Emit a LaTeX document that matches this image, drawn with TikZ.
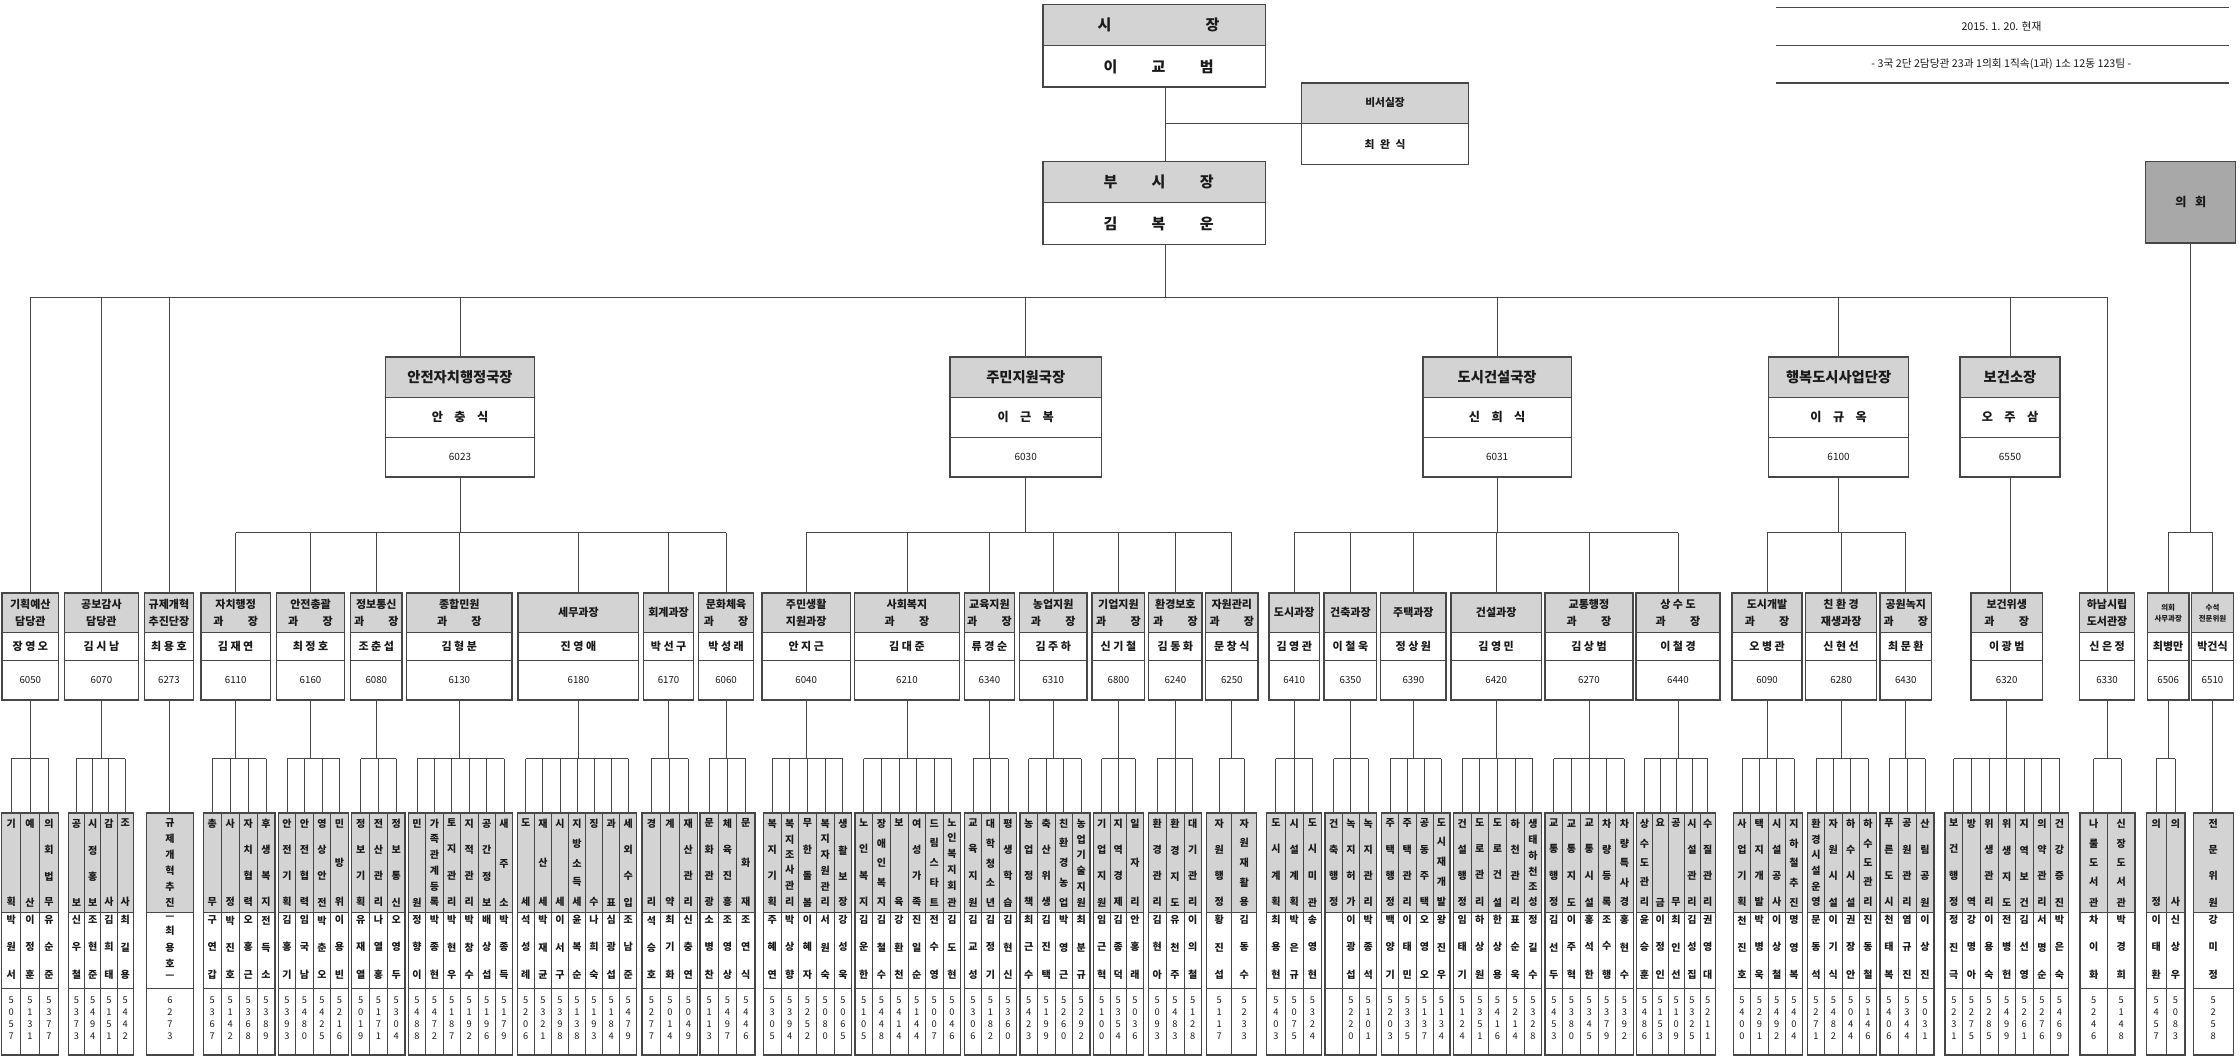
\documentclass[tikz,border=0pt]{standalone}
\usepackage{fontspec}
\setmainfont{Noto Sans CJK KR}
\usetikzlibrary{calc}
\definecolor{hdr}{HTML}{D3D3D3}
\definecolor{council}{HTML}{A8A8A8}
\definecolor{ln}{HTML}{474747}
\definecolor{tx}{HTML}{1A1A1A}
\newif\iffirstch
\def\vstend{\vstend}
\def\vstloop#1{\ifx#1\vstend\else\iffirstch\firstchfalse\else\vfill\fi\hbox to 0pt{\hss#1\hss}\expandafter\vstloop\fi}
\newcommand\vstack[2]{\vbox to #1{\offinterlineskip\firstchtrue\expandafter\vstloop#2\vstend}}
\newcommand\fA{\fontsize{7.7}{11.5}\selectfont\bfseries}
\newcommand\fB{\fontsize{5.2}{7.8}\selectfont\bfseries}
\tikzset{
  conn/.style={draw=ln, line width=0.6pt},
  frame/.style={draw=ln, line width=1pt},
  thinl/.style={draw=ln, line width=0.55pt},
  boxnode/.style={rectangle, inner sep=0pt, outer sep=0pt},
  colbox/.style={rectangle, draw=ln, line width=0.5pt, inner sep=0pt, outer sep=0pt, minimum height=169.5pt},
  stxt/.style={inner sep=0pt, align=center, text=tx},
  ntxt/.style={inner sep=0pt, text=tx, font=\fontsize{7.7}{7.7}\selectfont\bfseries},
  ptxt/.style={inner sep=0pt, text=tx, font=\fontsize{6.8}{6.8}\selectfont},
  dhtxt/.style={inner sep=0pt, text=tx, font=\fontsize{10}{10}\selectfont\bfseries},
  dntxt/.style={inner sep=0pt, text=tx, font=\fontsize{8.5}{8.5}\selectfont\bfseries},
  ctxt/.style={inner sep=0pt, text=tx, font=\fontsize{7}{7}\selectfont\bfseries},
  dtxt/.style={inner sep=0pt, text=tx, font=\fontsize{6.5}{6.5}\selectfont},
}
% section box
\newcommand\SB[7]{%
  \pgfmathsetmacro\bw{#3-#2}\pgfmathsetmacro\bxc{(#2+#3)/2}%
  \fill[hdr] (#2,415) rectangle (#3,443);
  \draw[thinl] (#2,443) -- (#3,443) (#2,462) -- (#3,462);
  \node[boxnode, frame, minimum width=\bw pt, minimum height=75pt, anchor=north west] (#1) at (#2,415) {};
  \node[stxt, font=#7] at (\bxc,429) {#4};
  \node[ntxt] at (\bxc,452.5) {#5};
  \node[ptxt] at (\bxc,476) {#6};
}
% director box
\newcommand\DB[6]{%
  \pgfmathsetmacro\bw{#3-#2}\pgfmathsetmacro\bxc{(#2+#3)/2}%
  \fill[hdr] (#2,250) rectangle (#3,278);
  \draw[thinl] (#2,278) -- (#3,278) (#2,306) -- (#3,306);
  \node[boxnode, frame, minimum width=\bw pt, minimum height=84pt, anchor=north west] (#1) at (#2,250) {};
  \node[dhtxt] at (\bxc,264) {#4};
  \node[dntxt] at (\bxc,292) {#5};
  \node[ptxt, font=\fontsize{7}{7}\selectfont] at (\bxc,320) {#6};
}
% column group
\newcommand\CG[5]{%
  \pgfmathsetmacro\cw{(#3-#2)/#4}%
  \fill[hdr] (#2,569) rectangle (#3,639);
  \foreach \ha/\na/\da [count=\ci] in {#5}{%
    \pgfmathsetmacro\xl{#2+(\ci-1)*\cw}%
    \pgfmathsetmacro\xm{#2+(\ci-0.5)*\cw}%
    \node[colbox, minimum width=\cw pt, anchor=north west] (#1-\ci) at (\xl,569) {};
    \node[ctxt] at (\xm,604) {\vstack{61pt}{\ha}};
    \node[ctxt] at (\xm,663) {\vstack{44pt}{\na}};
    \node[dtxt] at (\xm,712.5) {\vstack{30pt}{\da}};
  }
  \draw[frame] (#2,569) rectangle (#3,738.5);
  \draw[thinl] (#2,639) -- (#3,639) (#2,692) -- (#3,692);
  \ifnum#4=1
    \draw[conn] (#1.south) -- (#1.south |- #1-1.north);
  \else
    \draw[conn] (#1.south) -- (#1.south |- cbus);
    \draw[conn] (#1-1.north |- cbus) -- (#1-#4.north |- cbus);
    \foreach \cj in {1,...,#4}{\draw[conn] (#1-\cj.north |- cbus) -- (#1-\cj.north);}
  \fi
}
% sub bus from director to sections
\newcommand\SUB[4]{%
  \draw[conn] (#1.south) -- (#1.south |- sbus);
  \draw[conn] (#2.north |- sbus) -- (#3.north |- sbus);
  \foreach \sn in {#4}{\draw[conn] (\sn.north |- sbus) -- (\sn.north);}
}
\begin{document}
\begin{tikzpicture}[x=1pt,y=-1pt]
\useasboundingbox (0,0) rectangle (1568,744);
\fill[white] (0,0) rectangle (1568,744);
\coordinate (trunk) at (816,0);
\coordinate (mbus) at (0,208);
\coordinate (sbus) at (0,373);
\coordinate (cbus) at (0,531);

% date block
\draw[ln, line width=0.9pt] (1243,5) -- (1560,5) (1243,32) -- (1560,32) (1243,58) -- (1560,58);
\node[inner sep=0pt, text=tx, font=\fontsize{7.5}{7.5}\selectfont] (date) at (1401,18.5) {2015. 1. 20. 현재};
\node[inner sep=0pt, text=tx, font=\fontsize{7.5}{7.5}\selectfont] (summary) at (1401,45) {- 3국 2단 2담당관 23과 1의회 1직속(1과) 1소 12동 123팀 -};

% mayor
\fill[hdr] (730,3) rectangle (886,32);
\draw[thinl] (730,32) -- (886,32);
\node[boxnode, frame, minimum width=156pt, minimum height=58pt, anchor=north west] (mayor) at (730,3) {};
\node[inner sep=0pt, text=tx, font=\fontsize{10.5}{10.5}\selectfont\bfseries] at (811,17.5) {시\hspace{66pt}장};
\node[inner sep=0pt, text=tx, font=\fontsize{10.5}{10.5}\selectfont\bfseries] at (811,46.5) {이\hspace{24pt}교\hspace{24pt}범};
% secretary
\fill[hdr] (911,58) rectangle (1028,86.5);
\draw[thinl] (911,86.5) -- (1028,86.5);
\node[boxnode, frame, minimum width=117pt, minimum height=57pt, anchor=north west] (secr) at (911,58) {};
\node[inner sep=0pt, text=tx, font=\fontsize{7.5}{7.5}\selectfont\bfseries] at (969.5,72) {비서실장};
\node[inner sep=0pt, text=tx, font=\fontsize{7.5}{7.5}\selectfont\bfseries] at (969.5,101) {최\hspace{4pt}완\hspace{4pt}식};
% vice mayor
\fill[hdr] (730,113) rectangle (886,142);
\draw[thinl] (730,142) -- (886,142);
\node[boxnode, frame, minimum width=156pt, minimum height=58pt, anchor=north west] (vmayor) at (730,113) {};
\node[inner sep=0pt, text=tx, font=\fontsize{10.5}{10.5}\selectfont\bfseries] at (811,127.5) {부\hspace{24pt}시\hspace{24pt}장};
\node[inner sep=0pt, text=tx, font=\fontsize{10.5}{10.5}\selectfont\bfseries] at (811,156.5) {김\hspace{24pt}복\hspace{24pt}운};
% council
\node[boxnode, frame, fill=council, minimum width=63pt, minimum height=57pt, anchor=north west, text=tx, font=\fontsize{8.5}{8.5}\selectfont\bfseries] (council) at (1502,113) {의\hspace{6pt}회};

% directors
\DB{d1}{270}{374}{안전자치행정국장}{안\hspace{8pt}충\hspace{8pt}식}{6023}
\DB{d2}{665}{771}{주민지원국장}{이\hspace{8pt}근\hspace{8pt}복}{6030}
\DB{d3}{996}{1100}{도시건설국장}{신\hspace{8pt}희\hspace{8pt}식}{6031}
\DB{d4}{1238}{1336}{행복도시사업단장}{이\hspace{8pt}규\hspace{8pt}옥}{6100}
\DB{d5}{1372}{1442}{보건소장}{오\hspace{8pt}주\hspace{8pt}삼}{6550}

% sections
\SB{s1}{1.5}{41}{기획예산\\담당관}{장 영 오}{6050}{\fA}
\SB{s2}{45}{97}{공보감사\\담당관}{김 시 남}{6070}{\fA}
\SB{s3}{101}{135.5}{규제개혁\\추진단장}{최 용 호}{6273}{\fA}
\SB{s4}{140.7}{189.2}{자치행정\\과\hspace{17pt}장}{김 재 연}{6110}{\fA}
\SB{s5}{193.6}{241.1}{안전총괄\\과\hspace{17pt}장}{최 정 호}{6160}{\fA}
\SB{s6}{245.5}{281.3}{정보통신\\과\hspace{17pt}장}{조 춘 섭}{6080}{\fA}
\SB{s7}{284.7}{358.3}{종합민원\\과\hspace{17pt}장}{김 형 분}{6130}{\fA}
\SB{s8}{362.7}{447.1}{세무과장}{진 영 애}{6180}{\fA}
\SB{s9}{450.4}{485.6}{회계과장}{박 선 구}{6170}{\fA}
\SB{s10}{489}{527.5}{문화체육\\과\hspace{17pt}장}{박 성 래}{6060}{\fA}
\SB{s11}{533.4}{595.3}{주민생활\\지원과장}{안 지 근}{6040}{\fA}
\SB{s12}{598}{671.7}{사회복지\\과\hspace{17pt}장}{김 대 준}{6210}{\fA}
\SB{s13}{675}{710.2}{교육지원\\과\hspace{17pt}장}{류 경 순}{6340}{\fA}
\SB{s14}{713.5}{761}{농업지원\\과\hspace{17pt}장}{김 주 하}{6310}{\fA}
\SB{s15}{764.5}{801.3}{기업지원\\과\hspace{17pt}장}{신 기 철}{6800}{\fA}
\SB{s16}{804}{841.5}{환경보호\\과\hspace{17pt}장}{김 동 화}{6240}{\fA}
\SB{s17}{843.8}{880.7}{자원관리\\과\hspace{17pt}장}{문 창 식}{6250}{\fA}
\SB{s18}{888.4}{923.5}{도시과장}{김 영 관}{6410}{\fA}
\SB{s19}{926.9}{963.7}{건축과장}{이 철 욱}{6350}{\fA}
\SB{s20}{966.4}{1012.3}{주택과장}{정 상 원}{6390}{\fA}
\SB{s21}{1015.6}{1079}{건설과장}{김 영 민}{6420}{\fA}
\SB{s22}{1081.4}{1143.1}{교통행정\\과\hspace{17pt}장}{김 상 범}{6270}{\fA}
\SB{s23}{1145.1}{1204}{상 수 도\\과\hspace{17pt}장}{이 철 경}{6440}{\fA}
\SB{s24}{1212.5}{1261.4}{도시개발\\과\hspace{17pt}장}{오 병 관}{6090}{\fA}
\SB{s25}{1264}{1313.6}{친 환 경\\재생과장}{신 현 선}{6280}{\fA}
\SB{s26}{1315.9}{1352.2}{공원녹지\\과\hspace{17pt}장}{최 문 환}{6430}{\fA}
\SB{s27}{1379.6}{1429.8}{보건위생\\과\hspace{17pt}장}{이 광 범}{6320}{\fA}
\SB{s28}{1455.6}{1494.3}{하남시립\\도서관장}{신 은 정}{6330}{\fA}
\SB{s29}{1503.2}{1532.2}{의회\\사무과장}{최병만}{6506}{\fB}
\SB{s30}{1533.9}{1563.6}{수석\\전문위원}{박건식}{6510}{\fB}

% top connectors
\draw[conn] (mayor.south -| trunk) -- (vmayor.north -| trunk);
\draw[conn] (secr.west) -- (secr.west -| trunk);
\draw[conn] (vmayor.south -| trunk) -- (mbus -| trunk);
\draw[conn] (s1.north |- mbus) -- (s28.north |- mbus);
\foreach \n in {s1,s2,s3,s28}{\draw[conn] (\n.north |- mbus) -- (\n.north);}
\foreach \n in {d1,d2,d3,d4,d5}{\draw[conn] (\n.north |- mbus) -- (\n.north);}
\SUB{d1}{s4}{s10}{s4,s5,s6,s7,s8,s9,s10}
\SUB{d2}{s11}{s17}{s11,s12,s13,s14,s15,s16,s17}
\SUB{d3}{s18}{s23}{s18,s19,s20,s21,s22,s23}
\SUB{d4}{s24}{s26}{s24,s25,s26}
\SUB{council}{s29}{s30}{s29,s30}
\draw[conn] (d5.south) -- (d5.south |- s27.north);

% column groups
\CG{s1}{1.2}{40.8}{3}{기획/박원서/5057,예산/이정훈/5131,의회법무/유순준/5377}
\CG{s2}{47.8}{93.3}{4}{공보/신우철/5373,시정홍보/조현준/5494,감사/김희태/5151,조사/최길용/5442}
\CG{s3}{102.7}{135.3}{1}{규제개혁추진/—최용호—/6273}
\CG{s4}{142.3}{192.5}{4}{총무/구연갑/5367,사정/박진호/5142,자치협력/오홍근/5368,후생복지/전득소/5389}
\CG{s5}{194.8}{243.8}{4}{안전기획/김홍기/5393,안전협력/임국남/5480,영상안전/박춘오/5425,민방위/이용빈/5216}
\CG{s6}{246.2}{283.5}{3}{정보기획/유재열/5019,전산관리/나열홍/5171,정보통신/오영두/5304}
\CG{s7}{285.8}{358.9}{6}{민원/정향이/5488,가족관계등록/박종현/5472,토지관리/박현우/5187,지적관리/박창수/5192,공간정보/배상섭/5196,새주소/박종득/5179}
\CG{s8}{362.1}{445.7}{7}{도세/석성례/5206,재산세/박재균/5321,시세/이서구/5398,지방소득세/윤복순/5138,징수/나희숙/5193,과표/심광섭/5184,세외수입/조남준/5479}
\CG{s9}{449.5}{488.3}{3}{경리/석승호/5277,계약/최기화/5014,재산관리/신충연/5049}
\CG{s10}{490}{528.5}{3}{문화관광/소병찬/5113,체육진흥/조영상/5497,문화재/조연식/5446}
\CG{s11}{534.3}{596.2}{5}{복지기획/주혜연/5305,복지조사관리/박상향/5394,무한돌봄/이혜자/5252,복지자원관리/서원숙/5080,생활보장/강성욱/5065}
\CG{s12}{598.5}{672.5}{6}{노인복지/김운한/5105,장애인복지/김철수/5448,보육/강환천/5414,여성가족/진일순/5144,드림스타트/전수영/5007,노인복지회관/김도현/5046}
\CG{s13}{675}{711.7}{3}{교육지원/김교성/5306,대학청소년/김정기/5182,평생학습/김현신/5360}
\CG{s14}{714}{763}{4}{농업정책/최근수/5423,축산위생/김진택/5199,친환경농업/박영근/5260,농업기술지원/최분규/5292}
\CG{s15}{765.3}{800.3}{3}{기업지원/임근혁/5100,지역경제/김종덕/5354,일자리/안홍래/5036}
\CG{s16}{803.8}{841.2}{3}{환경관리/김현아/5093,환경지도/유천주/5483,대기관리/이의철/5128}
\CG{s17}{844.7}{879.7}{2}{자원행정/황진섭/5117,자원재활용/김동수/5233}
\CG{s18}{886.7}{925.2}{3}{도시계획/최용현/5403,시설계획/박은규/5075,도시미관/송영현/5324}
\CG{s19}{927.5}{963.7}{3}{건축행정//,녹지허가/이광섭/5220,녹지관리/박종석/5101}
\CG{s20}{967.2}{1015}{4}{주택행정/백양기/5203,주택관리/이태민/5335,공동주택/오영오/5137,도시재개발/왕진우/5134}
\CG{s21}{1017.3}{1079.2}{5}{건설행정/임태기/5124,도로관리/하상원/5351,도로건설/한상용/5416,하천관리/표순욱/5214,생태하천조성/정길수/5328}
\CG{s22}{1081.5}{1143.3}{5}{교통행정/김선두/5453,교통지도/이주혁/5380,교통시설/홍석한/5345,차량등록/조수행/5379,차량특사경/홍현수/5392}
\CG{s23}{1145.5}{1201}{5}{상수도관리/윤승훈/5486,요금/이정인/5153,공무/최인선/5109,시설관리/김성집/5325,수질관리/권영대/5211}
\CG{s24}{1213.3}{1261.9}{4}{사업기획/천진호/5400,택지개발/박병욱/5291,시설공사/이상철/5492,지하철추진/명영복/5404}
\CG{s25}{1265.1}{1313.7}{4}{환경시설운영/문동석/5271,자원시설/이기식/5482,하수시설/권장안/5044,하수도관리/진동철/5146}
\CG{s26}{1316}{1353.8}{3}{푸른도시/천태복/5406,공원관리/염규진/5344,산림공원/이상진/5031}
\CG{s27}{1361.5}{1447.8}{7}{보건행정/정진극/5231,방역/강명아/5275,위생관리/이용숙/5285,위생지도/전병헌/5499,지역보건/김선영/5261,의약관리/서명순/5276,건강증진/박은숙/5469}
\CG{s28}{1456}{1494.5}{2}{나룰도서관/차이화/5246,신장도서관/박경희/5148}
\CG{s29}{1502.7}{1529.5}{2}{의정/이태환/5457,의사/신상우/5083}
\CG{s30}{1535.3}{1563.3}{1}{전문위원/강미정/5258}
\end{tikzpicture}
\end{document}
